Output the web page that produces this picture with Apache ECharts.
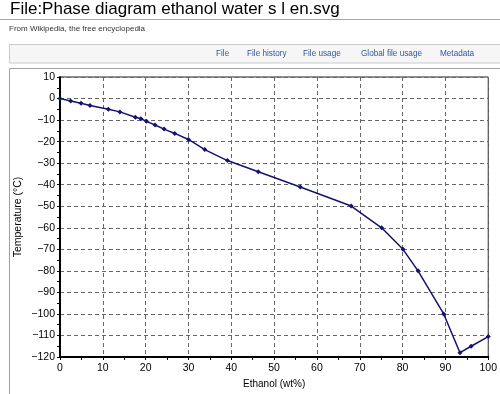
<!DOCTYPE html>
<html>
<head>
<meta charset="utf-8">
<script src="https://cdn.jsdelivr.net/npm/echarts@6/dist/echarts.min.js"></script>
<style>
html,body{margin:0;padding:0;background:#fff;}
#chart{width:500px;height:394px;}
</style>
</head>
<body>
<div id="chart"></div>
<script>
// Data
const ethanolWt = [0, 2.5, 4.9, 7.0, 11.3, 14.0, 17.6, 18.9, 20.2, 22.2, 24.3, 26.8, 30.0, 33.8, 39.1, 46.3, 56.1, 68.0, 75.1, 80.1, 83.6, 89.6, 93.4, 96.0, 100];
const temperatureC = [0, -1.1, -2.2, -3.2, -5.0, -6.2, -8.7, -9.4, -10.6, -12.3, -14.2, -16.2, -19.0, -23.7, -28.8, -34.0, -41.1, -49.9, -60.0, -70.0, -80.0, -100.0, -118.0, -115.0, -110.5];
const pageTitle = "File:Phase diagram ethanol water s l en.svg";
const subTitle = "From Wikipedia, the free encyclopedia";
const tabLabels = ["File", "File history", "File usage", "Global file usage", "Metadata"];
const xAxisName = "Ethanol (wt%)";
const yAxisName = "Temperature (°C)";

const tabX = [216, 247, 303, 361, 440];
const font = "'Liberation Sans', Arial, sans-serif";

const chart = echarts.init(document.getElementById('chart'), null, {renderer: 'canvas'});

const graphics = [
  {type: 'text', left: 10, top: 1, z: 10,
   style: {text: pageTitle, font: "17px " + font, fill: '#000'}},
  {type: 'line', z: 1, shape: {x1: 0, y1: 19.5, x2: 500, y2: 19.5}, style: {stroke: '#a2a9b1', lineWidth: 1}},
  {type: 'text', left: 9, top: 25, z: 10,
   style: {text: subTitle, font: "8px " + font, fill: '#333'}},
  {type: 'rect', z: 1, shape: {x: 9.5, y: 44.5, width: 500, height: 18.5},
   style: {fill: '#f6f6f6', stroke: '#c8ccd1', lineWidth: 1}},
  {type: 'rect', z: 0, shape: {x: 9.5, y: 68.5, width: 500, height: 400},
   style: {fill: 'none', stroke: '#a0a0a0', lineWidth: 1}}
];
tabLabels.forEach((t, i) => {
  graphics.push({type: 'text', left: tabX[i], top: 50, z: 10,
    style: {text: t, font: "8.2px " + font, fill: '#36559a'}});
});

const option = {
  backgroundColor: '#fff',
  animation: false,
  textStyle: {fontFamily: font},
  graphic: graphics,
  grid: {left: 60, top: 77, right: 10, bottom: 35, show: true, borderColor: '#222', borderWidth: 1, backgroundColor: 'transparent'},
  xAxis: {
    type: 'value', min: 0, max: 100, interval: 10,
    name: xAxisName, nameLocation: 'middle', nameGap: 22, nameMoveOverlap: false,
    nameTextStyle: {fontSize: 10, color: '#000', fontFamily: font},
    axisLine: {show: true, onZero: false, lineStyle: {color: '#000', width: 2}},
    axisTick: {show: true, length: 3, inside: false, lineStyle: {color: '#000'}},
    minorTick: {show: true, splitNumber: 2, length: 3, lineStyle: {color: '#000'}},
    axisLabel: {fontSize: 10.5, color: '#000', margin: 6, fontFamily: font},
    splitLine: {show: true, lineStyle: {color: '#666', type: [4, 3], width: 1}}
  },
  yAxis: {
    type: 'value', min: -120, max: 10, interval: 10,
    name: yAxisName, nameLocation: 'middle', nameGap: 36, nameMoveOverlap: false,
    nameTextStyle: {fontSize: 10.5, color: '#000', fontFamily: font},
    axisLine: {show: true, onZero: false, lineStyle: {color: '#000', width: 2}},
    axisTick: {show: true, length: 3, inside: false, lineStyle: {color: '#000'}},
    minorTick: {show: true, splitNumber: 2, length: 3, lineStyle: {color: '#000'}},
    axisLabel: {fontSize: 10.5, color: '#000', margin: 5, fontFamily: font,
      formatter: v => String(v).replace('-', '\u2212')},
    splitLine: {show: true, lineStyle: {color: '#666', type: [4, 3], width: 1}}
  },
  series: [{
    type: 'line',
    data: ethanolWt.map((x, i) => [x, temperatureC[i]]),
    smooth: false,
    symbol: 'diamond', symbolSize: 5,
    lineStyle: {color: '#14146e', width: 1.5},
    itemStyle: {color: '#14146e'},
    z: 5
  }]
};
chart.setOption(option);
</script>
</body>
</html>
